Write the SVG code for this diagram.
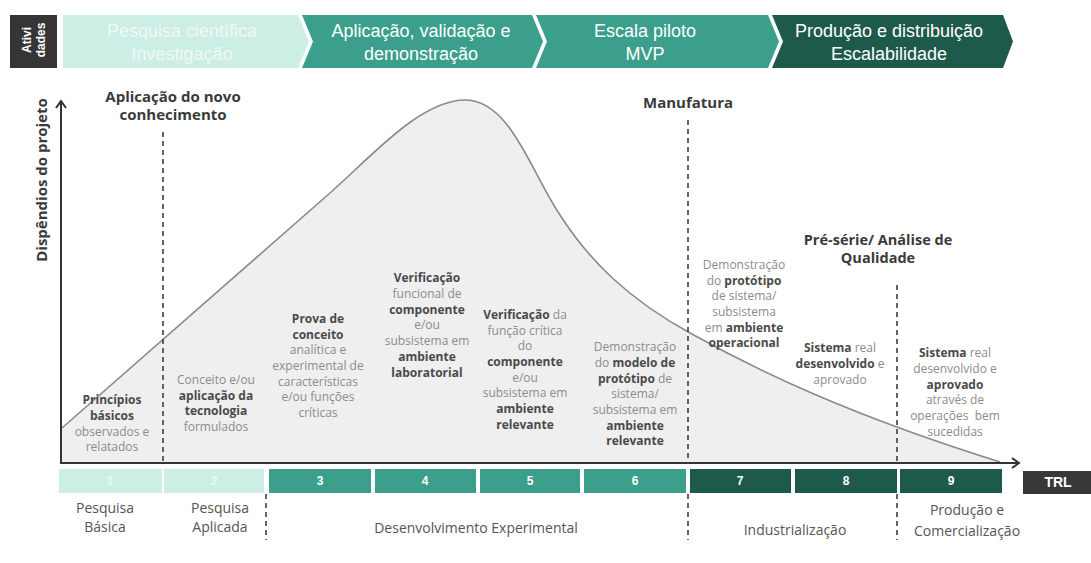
<svg xmlns="http://www.w3.org/2000/svg" width="1091" height="563" viewBox="0 0 1091 563">
<defs>
<style>
.ban{font-family:"Liberation Sans",Arial,sans-serif;font-size:18px;text-anchor:middle;fill:#ffffff}
.ban1{fill:#eef9f6}
.t{font-family:"Open Sans","Noto Sans",sans-serif;font-size:12px;fill:#8c8c8c;text-anchor:middle}
.b{font-weight:bold;fill:#4a4a4a}
.h{font-family:"Open Sans","Noto Sans",sans-serif;font-size:15px;font-weight:bold;fill:#3a3a3a;text-anchor:middle}
.lab{font-family:"Open Sans","Noto Sans",sans-serif;font-size:14px;fill:#555;text-anchor:middle}
.num{font-family:"Liberation Sans",Arial,sans-serif;font-size:12px;font-weight:bold;fill:#ffffff;text-anchor:middle}
.axis{stroke:#333;stroke-width:2;fill:none}
.dash{stroke:#333;stroke-width:1.5;stroke-dasharray:5 4;fill:none}
.light{fill:#cdeee5}
.teal{fill:#3b9f8b}
.dark{fill:#1e5a4b}
</style>
<marker id="arr" markerWidth="12" markerHeight="12" refX="9" refY="6" orient="auto" markerUnits="userSpaceOnUse">
<path d="M2,1 L9,6 L2,11" fill="none" stroke="#333" stroke-width="2"/>
</marker>
</defs>
<rect width="1091" height="563" fill="#ffffff"/>

<g id="banner">
<g id="ativ">
<rect x="10" y="15" width="47" height="53" fill="#353535"/>
<text transform="translate(31,40) rotate(-90)" font-family="Liberation Sans,Arial,sans-serif" font-size="12" font-weight="bold" fill="#fff" text-anchor="middle">Ativi</text>
<text transform="translate(45,40) rotate(-90)" font-family="Liberation Sans,Arial,sans-serif" font-size="12" font-weight="bold" fill="#fff" text-anchor="middle">dades</text>
</g>
<g id="stage1">
<polygon class="light" points="63,15 298,15 309,41.5 298,68 63,68"/>
<text class="ban ban1" x="182" y="37">Pesquisa científica</text>
<text class="ban ban1" x="182" y="60">Investigação</text>
</g>
<g id="stage2">
<polygon class="teal" points="302,15 532,15 543,41.5 532,68 302,68 313,41.5"/>
<text class="ban" x="421" y="37">Aplicação, validação e</text>
<text class="ban" x="421" y="60">demonstração</text>
</g>
<g id="stage3">
<polygon class="teal" points="536,15 768,15 779,41.5 768,68 536,68 547,41.5"/>
<text class="ban" x="645" y="37">Escala piloto</text>
<text class="ban" x="645" y="60">MVP</text>
</g>
<g id="stage4">
<polygon class="dark" points="772,15 1003,15 1013,41.5 1003,68 772,68 783,41.5"/>
<text class="ban" x="889" y="37">Produção e distribuição</text>
<text class="ban" x="889" y="60">Escalabilidade</text>
</g>
</g>

<g id="curve">
<path d="M62,428 L330,193 C370,158 420,100 465,100 C510,100 530,170 560,215 C590,262 630,300 690,333 C760,372 850,415 1000,462 L1000,463 L62,463 Z" fill="#efefef" stroke="none"/>
<path d="M62,428 L330,193 C370,158 420,100 465,100 C510,100 530,170 560,215 C590,262 630,300 690,333 C760,372 850,415 1000,462" fill="none" stroke="#8a8a8a" stroke-width="1.6"/>
</g>

<g id="connectors">
<line class="axis" x1="61" y1="464" x2="61" y2="101" marker-end="url(#arr)"/>
<line class="axis" x1="60" y1="463" x2="1019" y2="463" marker-end="url(#arr)"/>
<line class="dash" x1="163" y1="132" x2="163" y2="462"/>
<line class="dash" x1="688" y1="120" x2="688" y2="462"/>
<line class="dash" x1="897" y1="285" x2="897" y2="462"/>
<line class="dash" x1="266" y1="494" x2="266" y2="540"/>
<line class="dash" x1="688" y1="494" x2="688" y2="540"/>
<line class="dash" x1="897" y1="494" x2="897" y2="540"/>
</g>

<g id="yaxis-label">
<text class="h" transform="translate(47,180) rotate(-90)">Dispêndios do projeto</text>
</g>

<g id="milestones">
<text class="h" x="173" y="102">Aplicação do novo</text>
<text class="h" x="173" y="120">conhecimento</text>
<text class="h" x="688" y="108">Manufatura</text>
<text class="h" x="878" y="245" style="font-size:14.5px">Pré-série/ Análise de</text>
<text class="h" x="878" y="263" style="font-size:14.5px">Qualidade</text>
</g>

<g id="col1">
<text class="t" x="112" y="404"><tspan class="b">Princípios</tspan></text>
<text class="t" x="112" y="420"><tspan class="b">básicos</tspan></text>
<text class="t" x="112" y="436">observados e</text>
<text class="t" x="112" y="451">relatados</text>
</g>
<g id="col2">
<text class="t" x="216" y="384">Conceito e/ou</text>
<text class="t" x="216" y="400"><tspan class="b">aplicação da</tspan></text>
<text class="t" x="216" y="415"><tspan class="b">tecnologia</tspan></text>
<text class="t" x="216" y="431">formulados</text>
</g>
<g id="col3">
<text class="t" x="318" y="323"><tspan class="b">Prova de</tspan></text>
<text class="t" x="318" y="339"><tspan class="b">conceito</tspan></text>
<text class="t" x="318" y="354">analítica e</text>
<text class="t" x="318" y="370">experimental de</text>
<text class="t" x="318" y="386">características</text>
<text class="t" x="318" y="401">e/ou funções</text>
<text class="t" x="318" y="417">críticas</text>
</g>
<g id="col4">
<text class="t" x="427" y="282"><tspan class="b">Verificação</tspan></text>
<text class="t" x="427" y="298">funcional de</text>
<text class="t" x="427" y="314"><tspan class="b">componente</tspan></text>
<text class="t" x="427" y="329">e/ou</text>
<text class="t" x="427" y="345">subsistema em</text>
<text class="t" x="427" y="361"><tspan class="b">ambiente</tspan></text>
<text class="t" x="427" y="377"><tspan class="b">laboratorial</tspan></text>
</g>
<g id="col5">
<text class="t" x="525" y="319"><tspan class="b">Verificação</tspan> da</text>
<text class="t" x="525" y="335">função crítica</text>
<text class="t" x="525" y="350">do</text>
<text class="t" x="525" y="366"><tspan class="b">componente</tspan></text>
<text class="t" x="525" y="382">e/ou</text>
<text class="t" x="525" y="397">subsistema em</text>
<text class="t" x="525" y="413"><tspan class="b">ambiente</tspan></text>
<text class="t" x="525" y="429"><tspan class="b">relevante</tspan></text>
</g>
<g id="col6">
<text class="t" x="635" y="351">Demonstração</text>
<text class="t" x="635" y="367">do <tspan class="b">modelo de</tspan></text>
<text class="t" x="635" y="383"><tspan class="b">protótipo</tspan> de</text>
<text class="t" x="635" y="398">sistema/</text>
<text class="t" x="635" y="414">subsistema em</text>
<text class="t" x="635" y="430"><tspan class="b">ambiente</tspan></text>
<text class="t" x="635" y="445"><tspan class="b">relevante</tspan></text>
</g>
<g id="col7">
<text class="t" x="744" y="269">Demonstração</text>
<text class="t" x="744" y="285">do <tspan class="b">protótipo</tspan></text>
<text class="t" x="744" y="300">de sistema/</text>
<text class="t" x="744" y="316">subsistema</text>
<text class="t" x="744" y="332">em <tspan class="b">ambiente</tspan></text>
<text class="t" x="744" y="347"><tspan class="b">operacional</tspan></text>
</g>
<g id="col8">
<text class="t" x="840" y="352"><tspan class="b">Sistema</tspan> real</text>
<text class="t" x="840" y="368"><tspan class="b">desenvolvido</tspan> e</text>
<text class="t" x="840" y="384">aprovado</text>
</g>
<g id="col9">
<text class="t" x="955" y="357"><tspan class="b">Sistema</tspan> real</text>
<text class="t" x="955" y="373">desenvolvido e</text>
<text class="t" x="955" y="389"><tspan class="b">aprovado</tspan></text>
<text class="t" x="955" y="404">através de</text>
<text class="t" x="955" y="420" xml:space="preserve">operações  bem</text>
<text class="t" x="955" y="436">sucedidas</text>
</g>

<g id="trl-bar">
<rect class="light" x="59" y="469" width="103" height="24"/>
<rect class="light" x="164" y="469" width="100" height="24"/>
<rect class="teal" x="269" y="469" width="102" height="24"/>
<rect class="teal" x="375" y="469" width="101" height="24"/>
<rect class="teal" x="480" y="469" width="100" height="24"/>
<rect class="teal" x="584" y="469" width="102" height="24"/>
<rect class="dark" x="690" y="469" width="101" height="24"/>
<rect class="dark" x="795" y="469" width="102" height="24"/>
<rect class="dark" x="900" y="469" width="102" height="24"/>
<text class="num" x="110" y="485" style="fill:#eaf8f4">1</text>
<text class="num" x="214" y="485" style="fill:#eaf8f4">2</text>
<text class="num" x="320" y="485">3</text>
<text class="num" x="425" y="485">4</text>
<text class="num" x="530" y="485">5</text>
<text class="num" x="635" y="485">6</text>
<text class="num" x="740" y="485">7</text>
<text class="num" x="846" y="485">8</text>
<text class="num" x="951" y="485">9</text>
<rect x="1023" y="471" width="68" height="23" fill="#383838"/>
<text class="num" x="1058" y="487" style="font-size:14px">TRL</text>
</g>

<g id="phases">
<text class="lab" x="105" y="513">Pesquisa</text>
<text class="lab" x="105" y="532">Básica</text>
<text class="lab" x="220" y="513">Pesquisa</text>
<text class="lab" x="220" y="532">Aplicada</text>
<text class="lab" x="476" y="533">Desenvolvimento Experimental</text>
<text class="lab" x="795" y="535">Industrialização</text>
<text class="lab" x="967" y="515">Produção e</text>
<text class="lab" x="967" y="536">Comercialização</text>
</g>
</svg>
